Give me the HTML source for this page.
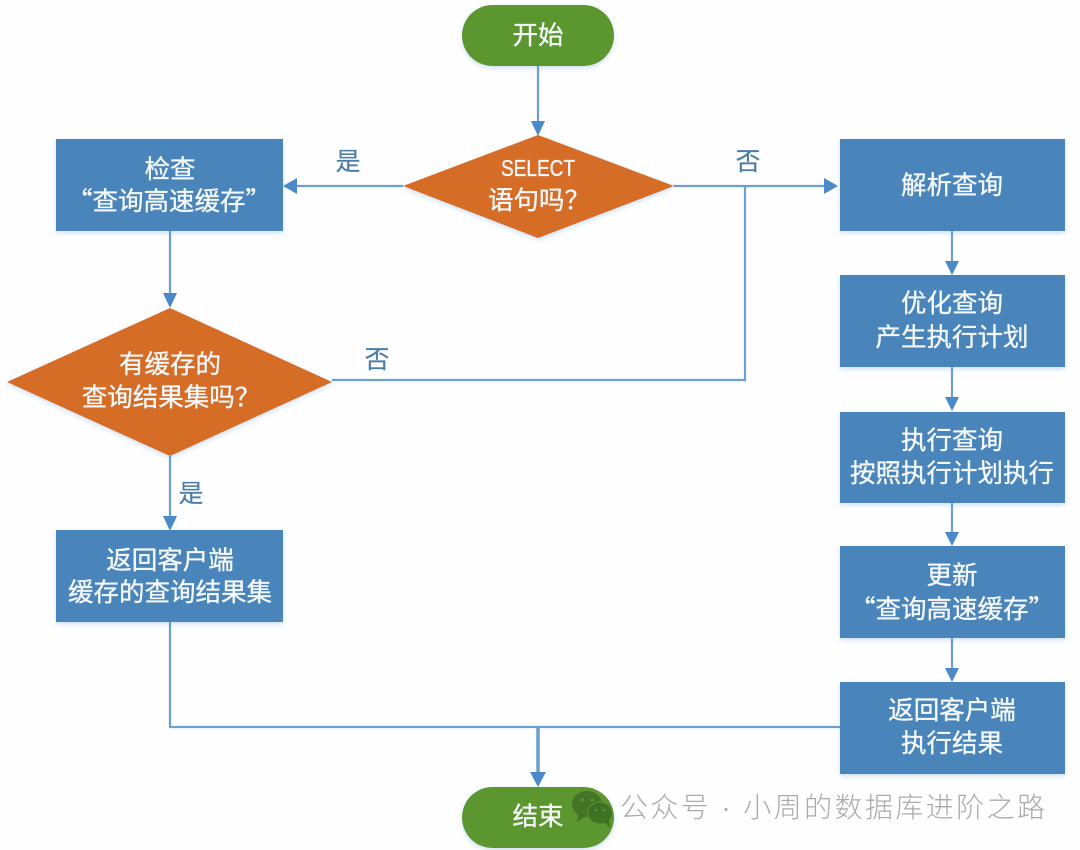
<!DOCTYPE html>
<html>
<head>
<meta charset="utf-8">
<style>
html,body{margin:0;padding:0;background:#fefefe;width:1080px;height:850px;overflow:hidden}
svg{display:block}
text{font-family:"Liberation Sans","Noto Sans CJK SC","WenQuanYi Zen Hei",sans-serif;text-anchor:middle}
.w{fill:#f4f8fb;font-size:25.5px;stroke:#f4f8fb;stroke-width:.35px}
.q{font-family:"Noto Sans CJK SC",sans-serif}
.l{fill:#4d7ea8;font-size:25px;stroke:#4d7ea8;stroke-width:.2px}
.c{fill:none;stroke:#6a9fd0;stroke-width:2.2}
.a{fill:#4a8acb}
.b{fill:#4a84ba}
.d{fill:#d66d25}
.g{fill:#5b962f}
</style>
</head>
<body>
<svg width="1080" height="850" viewBox="0 0 1080 850" xmlns="http://www.w3.org/2000/svg">
<defs>
<filter id="s" x="-10%" y="-10%" width="120%" height="125%">
<feDropShadow dx="0" dy="2" stdDeviation="2.5" flood-color="#5b9bd5" flood-opacity=".3"/>
</filter>
<filter id="t" x="-5%" y="-20%" width="110%" height="140%"><feGaussianBlur stdDeviation="0.35"/></filter>
</defs>
<rect width="1080" height="850" fill="#fefefe"/>

<!-- connectors -->
<g class="c">
<path d="M538 66V125"/>
<path d="M403 186H297"/>
<path d="M170 231V295"/>
<path d="M170 456V517"/>
<path d="M674 186H826"/>
<path d="M332 380H745V186"/>
<path d="M952 231V262"/>
<path d="M952 367V399"/>
<path d="M952 503V533"/>
<path d="M952 638V669"/>
<path d="M170 622V727H840"/>
<path d="M538 727V775" style="stroke-width:3.5"/>
</g>
<g class="a">
<polygon points="531,121 545,121 538,136"/>
<polygon points="297,178 297,194 283,186"/>
<polygon points="163,293 177,293 170,308"/>
<polygon points="163,516 177,516 170,531"/>
<polygon points="824,178 824,194 838,186"/>
<polygon points="945,261 959,261 952,275"/>
<polygon points="945,397 959,397 952,411"/>
<polygon points="945,532 959,532 952,546"/>
<polygon points="945,668 959,668 952,682"/>
<polygon points="530,772 546,772 538,787"/>
</g>

<!-- shapes -->
<g filter="url(#s)">
<rect class="g" x="462" y="5" width="152" height="61" rx="30.5"/>
<rect class="g" x="462" y="787" width="152" height="61" rx="30.5"/>
<polygon class="d" points="403,186 538,135 674,186 538,238"/>
<polygon class="d" points="7,382 170,308 332,382 170,456"/>
<rect class="b" x="56" y="139" width="227" height="92"/>
<rect class="b" x="56" y="530" width="227" height="92"/>
<rect class="b" x="840" y="139" width="225" height="92"/>
<rect class="b" x="840" y="275" width="225" height="92"/>
<rect class="b" x="840" y="412" width="225" height="91"/>
<rect class="b" x="840" y="546" width="225" height="92"/>
<rect class="b" x="840" y="682" width="225" height="92"/>
</g>

<!-- labels -->
<g filter="url(#t)">
<text class="w" x="538" y="44">开始</text>
<text class="w" x="538" y="825">结束</text>
<text class="w" x="538" y="176" textLength="74" lengthAdjust="spacingAndGlyphs" style="font-size:23px">SELECT</text>
<text class="w q" x="539" y="209">语句吗？</text>
<text class="w" x="170" y="178">检查</text>
<text class="w q" x="169" y="210">“查询高速缓存”</text>
<text class="w" x="170" y="373">有缓存的</text>
<text class="w q" x="171" y="406">查询结果集吗？</text>
<text class="w" x="170" y="569">返回客户端</text>
<text class="w" x="170" y="601">缓存的查询结果集</text>
<text class="w" x="952" y="194">解析查询</text>
<text class="w" x="952" y="312">优化查询</text>
<text class="w" x="952" y="346">产生执行计划</text>
<text class="w" x="952" y="449">执行查询</text>
<text class="w" x="952" y="482">按照执行计划执行</text>
<text class="w" x="952" y="584">更新</text>
<text class="w q" x="952" y="618">“查询高速缓存”</text>
<text class="w" x="952" y="719">返回客户端</text>
<text class="w" x="952" y="752">执行结果</text>
<text class="l" x="348" y="170">是</text>
<text class="l" x="748" y="170">否</text>
<text class="l" x="377" y="368">否</text>
<text class="l" x="191" y="502">是</text>
</g>

<!-- watermark -->
<g>
<ellipse cx="587" cy="804" rx="15" ry="13" fill="#3f6f25" fill-opacity=".85"/>
<polygon points="578,814 577,822 586,816" fill="#3f6f25" fill-opacity=".85"/>
<ellipse cx="600" cy="813" rx="12.5" ry="11" fill="#3f6f25" fill-opacity=".9" stroke="#5b962f" stroke-width="1"/>
<polygon points="604,822 610,828 609,819" fill="#3f6f25"/>
<circle cx="582" cy="800" r="1.5" fill="#5b962f"/><circle cx="592" cy="800" r="1.5" fill="#5b962f"/>
<circle cx="596" cy="810" r="1.3" fill="#5b962f"/><circle cx="604" cy="810" r="1.3" fill="#5b962f"/>
<text x="832.5" y="817" textLength="425" lengthAdjust="spacing" style="font-size:28px;fill:#ababab;font-weight:300">公众号 · 小周的数据库进阶之路</text>
</g>
</svg>
</body>
</html>
